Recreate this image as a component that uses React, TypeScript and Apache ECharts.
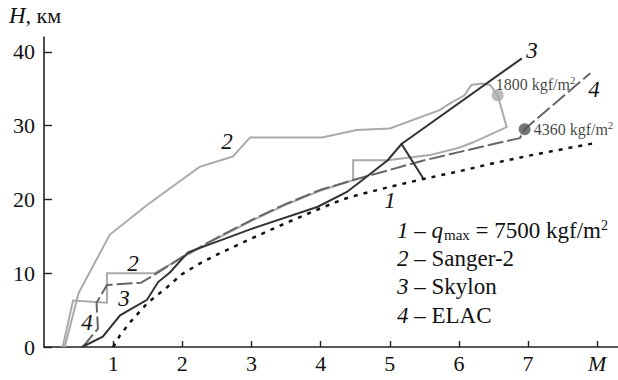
import React, { useEffect, useRef } from "react";
import * as echarts from "echarts";

const FONT = "'Liberation Serif', 'DejaVu Serif', serif";

const qLimit: [number, number][] = [
  [1.0, 0], [1.1, 1.6], [1.25, 3.4], [1.5, 6.0], [1.78, 8.1], [2.0, 9.9], [2.25, 11.3],
  [2.5, 12.5], [3.0, 14.7], [3.5, 16.8], [4.0, 18.8], [4.32, 20.0], [4.5, 20.5],
  [5.0, 21.7], [5.5, 22.8], [6.0, 23.8], [6.5, 24.9], [7.0, 25.9], [7.5, 26.8], [7.95, 27.6],
];

const sanger: [number, number][] = [
  [0.27, 0], [0.42, 6.3], [0.91, 6.0], [0.91, 10.0], [1.6, 10.0], [2.0, 12.1], [2.5, 14.7],
  [3.0, 17.1], [3.5, 19.3], [4.0, 21.2], [4.47, 22.6], [4.47, 25.3], [4.97, 25.3],
  [5.58, 26.0], [6.0, 27.0], [6.2, 27.7], [6.69, 29.8], [6.56, 34.1], [6.45, 35.5],
  [6.34, 35.7], [6.18, 35.5], [6.08, 34.1], [5.87, 33.0], [5.72, 32.1], [5.0, 29.6],
  [4.52, 29.4], [4.02, 28.4], [2.98, 28.4], [2.73, 25.8], [2.25, 24.4], [1.5, 19.3],
  [0.95, 15.2], [0.5, 7.3], [0.3, 0],
];

const skylon: [number, number][] = [
  [0.55, 0], [0.85, 1.4], [1.1, 4.3], [1.49, 6.4], [1.65, 8.8], [1.82, 10.1], [2.08, 12.8],
  [2.16, 13.1], [3.0, 16.0], [3.96, 19.0], [4.38, 21.0], [4.6, 22.6], [4.97, 25.3],
  [5.17, 27.5], [5.48, 22.9], [5.17, 27.5], [6.91, 39.1],
];

const elac: [number, number][] = [
  [0.56, 0], [0.78, 2.5], [0.76, 6.0], [0.91, 8.4], [1.4, 8.7], [1.6, 9.8], [2.0, 12.2],
  [2.5, 14.8], [3.0, 17.2], [3.5, 19.4], [4.0, 21.3], [4.5, 22.7], [5.0, 24.0],
  [5.5, 25.3], [6.0, 26.4], [6.5, 27.5], [6.88, 28.3], [6.95, 29.5], [7.9, 37.1],
];

const markers: { value: [number, number]; text: string; color: string }[] = [
  { value: [6.56, 34.1], text: "1800 kgf/m", color: "#aaaaaa" },
  { value: [6.95, 29.5], text: "4360 kgf/m", color: "#555555" },
];

const xTicks = [1, 2, 3, 4, 5, 6, 7, 8];
const yTicks = [0, 10, 20, 30, 40];

const legendLines = [
  "{i|1}{n| – }{i|q}{sub|max}{n| = 7500 kgf/m}{sup|2}",
  "{i|2}{n| – Sanger-2}",
  "{i|3}{n| – Skylon}",
  "{i|4}{n| – ELAC}",
];

const curveLabels: { t: string; x: number; y: number }[] = [
  { t: "3", x: 532, y: 50 },
  { t: "4", x: 594, y: 89 },
  { t: "2", x: 227, y: 141 },
  { t: "1", x: 390, y: 200 },
  { t: "2", x: 133, y: 263 },
  { t: "3", x: 124, y: 298 },
  { t: "4", x: 87, y: 322 },
];

export default function App() {
  const ref = useRef<HTMLDivElement>(null);
  useEffect(() => {
    if (!ref.current) return;
    const chart = echarts.init(ref.current, undefined, { renderer: "svg" });
    const LS = 23;
    const richBase = {
      i: { fontStyle: "italic", fontSize: LS, fontFamily: FONT, fill: "#111" },
      n: { fontStyle: "normal", fontSize: LS, fontFamily: FONT, fill: "#111" },
      sub: { fontStyle: "normal", fontSize: 15, fontFamily: FONT, fill: "#111", padding: [9, 0, 0, 1] },
      sup: { fontStyle: "normal", fontSize: 14, fontFamily: FONT, fill: "#111", padding: [0, 0, 11, 0] },
    };
    const graphics: any[] = [];
    graphics.push({
      type: "text",
      left: 9,
      top: 4,
      style: {
        text: "{i|H}{n|, км}",
        fontSize: LS,
        fontFamily: FONT,
        fill: "#111",
        rich: {
          i: { fontStyle: "italic", fontSize: 23, fontFamily: FONT, fill: "#111" },
          n: { fontSize: 22, fontFamily: FONT, fill: "#111" },
        },
      },
    });
    legendLines.forEach((t, k) => {
      graphics.push({
        type: "text",
        left: 397,
        top: 218 + k * 28.7,
        style: {
          text: t,
          fontSize: LS,
          fontFamily: FONT,
          fill: "#111",
          rich: richBase,
        },
      });
    });
    curveLabels.forEach((c) => {
      graphics.push({
        type: "text",
        x: c.x,
        y: c.y,
        style: {
          text: c.t,
          fontSize: 23,
          fontStyle: "italic",
          fontFamily: FONT,
          fill: "#111",
          align: "center",
          verticalAlign: "middle",
        },
      });
    });

    const line = (name: string, data: [number, number][], color: string, type: any, width: number, z: number) => ({
      name,
      type: "line",
      data,
      symbol: "none",
      z,
      lineStyle: { color, type, width, cap: "butt", join: "miter" },
    });

    chart.setOption({
      animation: false,
      grid: { left: 44, right: 0, top: 37, bottom: 33 },
      xAxis: {
        type: "value",
        min: 0,
        max: 8.3,
        interval: 1,
        splitLine: { show: false },
        axisLine: { show: true, onZero: false, lineStyle: { color: "#222", width: 1.6 } },
        axisTick: { show: true, inside: true, length: 6, customValues: xTicks, lineStyle: { color: "#222", width: 1.4 } },
        axisLabel: {
          customValues: xTicks,
          margin: 5,
          fontSize: 22,
          fontFamily: FONT,
          color: "#111",
          formatter: (v: number) => (v === 8 ? "{i|M}" : String(v)),
          rich: { i: { fontStyle: "italic", fontSize: 22, fontFamily: FONT, color: "#111" } },
        },
      },
      yAxis: {
        type: "value",
        min: 0,
        max: 42,
        interval: 10,
        splitLine: { show: false },
        axisLine: { show: true, onZero: false, lineStyle: { color: "#222", width: 1.6 } },
        axisTick: { show: true, inside: true, length: 8, customValues: yTicks, lineStyle: { color: "#222", width: 1.4 } },
        axisLabel: {
          customValues: yTicks,
          margin: 9,
          fontSize: 22,
          fontFamily: FONT,
          color: "#111",
        },
      },
      series: [
        line("Sanger-2", sanger, "#aaaaaa", "solid", 2, 2),
        line("ELAC", elac, "#666666", [16, 4], 2, 3),
        line("Skylon", skylon, "#333333", "solid", 2, 4),
        line("q", qLimit, "#111111", [4, 6], 2.5, 5),
        {
          type: "scatter",
          z: 6,
          symbolSize: 12,
          data: markers.map((m, k) => ({
            value: m.value,
            itemStyle: { color: m.color },
            label: {
              show: true,
              position: "right",
              distance: k === 0 ? -8 : 3,
              offset: k === 0 ? [0, -11] : [0, 0],
              formatter: "{n|" + m.text + "}{sup|2}",
              fontSize: 16,
              fontFamily: FONT,
              color: "#111",
              rich: {
                n: { fontSize: 16, fontFamily: FONT, color: "#111" },
                sup: { fontSize: 11, fontFamily: FONT, color: "#111", padding: [0, 0, 8, 0] },
              },
            },
          })),
        },
      ],
      graphic: graphics,
    });
    return () => chart.dispose();
  }, []);
  return <div ref={ref} style={{ width: 618, height: 380, position: "absolute", left: 0, top: 0 }} />;
}
